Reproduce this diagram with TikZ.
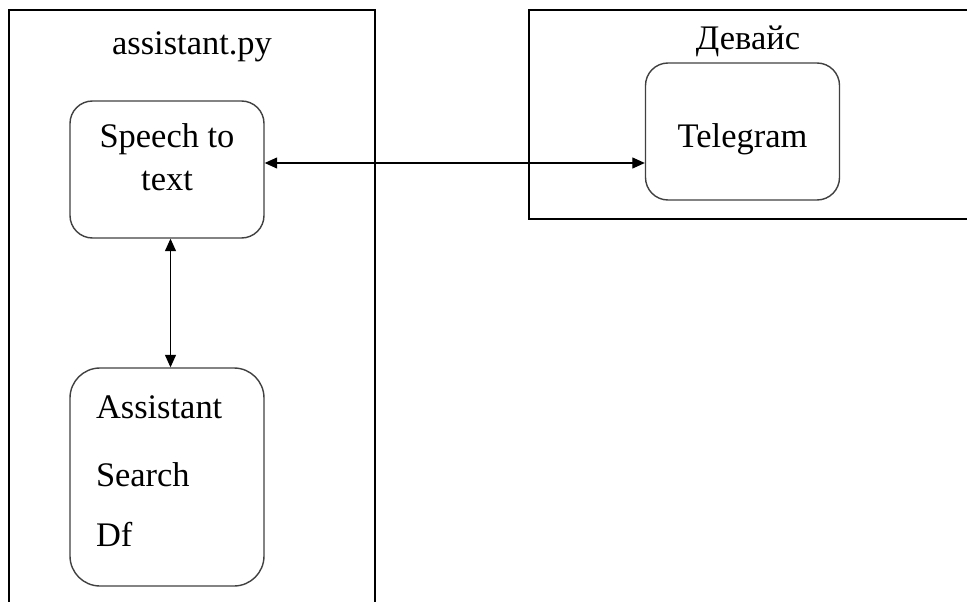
\documentclass[tikz,border=0pt]{standalone}
\usepackage{fontspec}
\setmainfont{Liberation Serif}
\usetikzlibrary{arrows.meta, positioning}

\tikzset{
  container/.style={draw, line width=1pt, anchor=north west, inner sep=0pt},
  module/.style={draw=black!75, line width=0.8pt, rounded corners=0.45cm, minimum width=3.88cm, minimum height=2.74cm, align=center},
  title/.style={anchor=base},
  link/.style={{Triangle[length=0.25cm,width=0.22cm]}-{Triangle[length=0.25cm,width=0.22cm]}, line width=0.7pt},
}

\begin{document}
\begin{tikzpicture}[font=\fontsize{19.6}{24.4}\selectfont]
    \clip (0,0) rectangle (19.34,-12.04);
    % the two frames
    \node[container, minimum width=7.32cm, minimum height=13cm] (script) at (0.16,-0.18) {};
    \node[container, minimum width=10cm, minimum height=4.18cm] (device) at (10.56,-0.18) {};
    \node[title] (scriptname) at (3.84,-1.1) {assistant.py};
    \node[title] (devicename) at (14.96,-1.0) {Девайс};

    % modules
    \node[module, text height=1.33cm, text depth=0.51cm] (stt) at (3.34,-3.39) {Speech to\\text};
    \node[module, rounded corners=0.6cm, minimum height=4.36cm, align=left, inner xsep=0.52cm, text width=2.84cm, text height=0.55cm, text depth=2.89cm] (asst) at (3.34,-9.54) {Assistant\\[0.5cm]Search\\[0.34cm]Df};
    \node[module, text height=0.78cm, text depth=0.15cm] (tg) at (14.85,-2.63) {Telegram};

    \draw[link] ([yshift=0.13cm]stt.east) -- ([yshift=0.13cm]stt.east -| tg.west);
    \draw[link] ([xshift=0.07cm]stt.south) -- ([xshift=0.07cm]asst.north);
\end{tikzpicture}
\end{document}
